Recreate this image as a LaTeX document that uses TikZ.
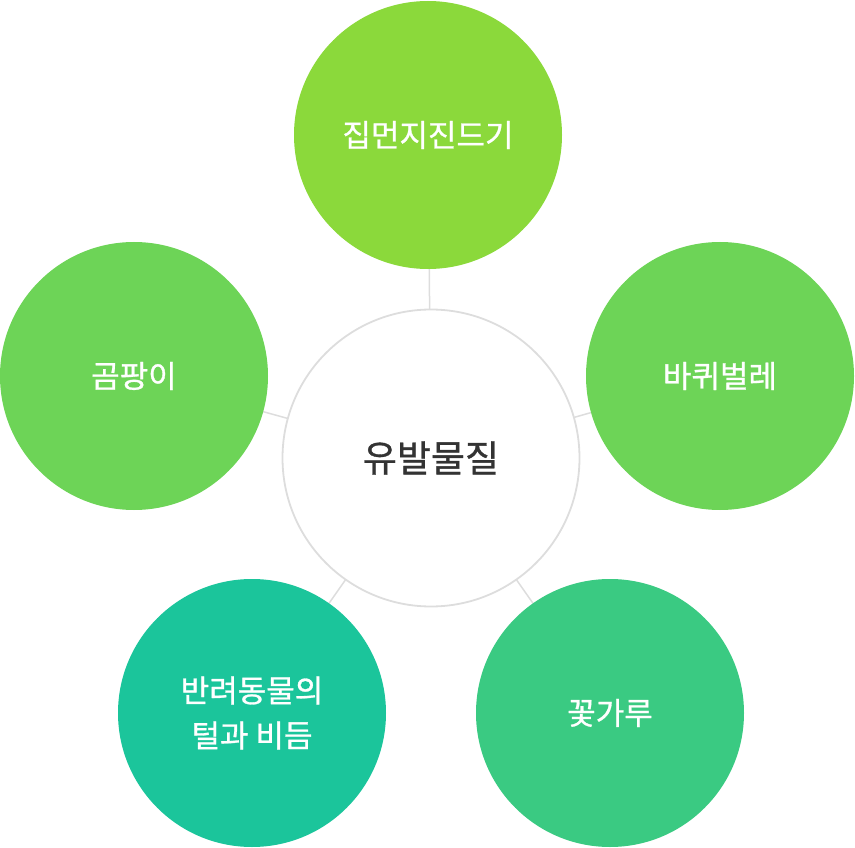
\documentclass[tikz,border=0pt]{standalone}
\usepackage{fontspec}
\newfontfamily\kr{Noto Sans CJK KR}[FakeBold=0.9]
\definecolor{cTop}{HTML}{8BD93B}
\definecolor{cSide}{HTML}{6DD457}
\definecolor{cBL}{HTML}{1BC59B}
\definecolor{cBR}{HTML}{3ACA82}
\definecolor{cLine}{HTML}{DDDDDD}
\definecolor{cText}{HTML}{333333}
\tikzset{
  outer/.style={circle, minimum size=268pt, inner sep=0pt, text=white, align=center, font=\kr\fontsize{31}{45}\selectfont},
  hub/.style={circle, draw=cLine, line width=1.8pt, fill=white, minimum size=297pt, inner sep=0pt, text=cText, font=\kr\fontsize{37}{40}\selectfont},
  link/.style={draw=cLine, line width=1.5pt}
}
\begin{document}
\begin{tikzpicture}[x=1pt,y=-1pt]
\useasboundingbox (0,0) rectangle (855,848);
\coordinate (hc) at (431,458);
\coordinate (tc) at (428,135);
\coordinate (lc) at (134,376);
\coordinate (rc) at (720,376);
\coordinate (blc) at (252,713);
\coordinate (brc) at (610,713);
\draw[link] (hc) -- (tc);
\draw[link] (hc) -- (lc);
\draw[link] (hc) -- (rc);
\draw[link] (hc) -- (blc);
\draw[link] (hc) -- (brc);
\node[hub] (hub) at (hc) {유발물질};
\node[outer, fill=cTop] (top) at (tc) {집먼지진드기};
\node[outer, fill=cSide] (left) at (lc) {곰팡이};
\node[outer, fill=cSide] (right) at (rc) {바퀴벌레};
\node[outer, fill=cBL] (bl) at (blc) {반려동물의\\털과 비듬};
\node[outer, fill=cBR] (br) at (brc) {꽃가루};
\end{tikzpicture}
\end{document}
